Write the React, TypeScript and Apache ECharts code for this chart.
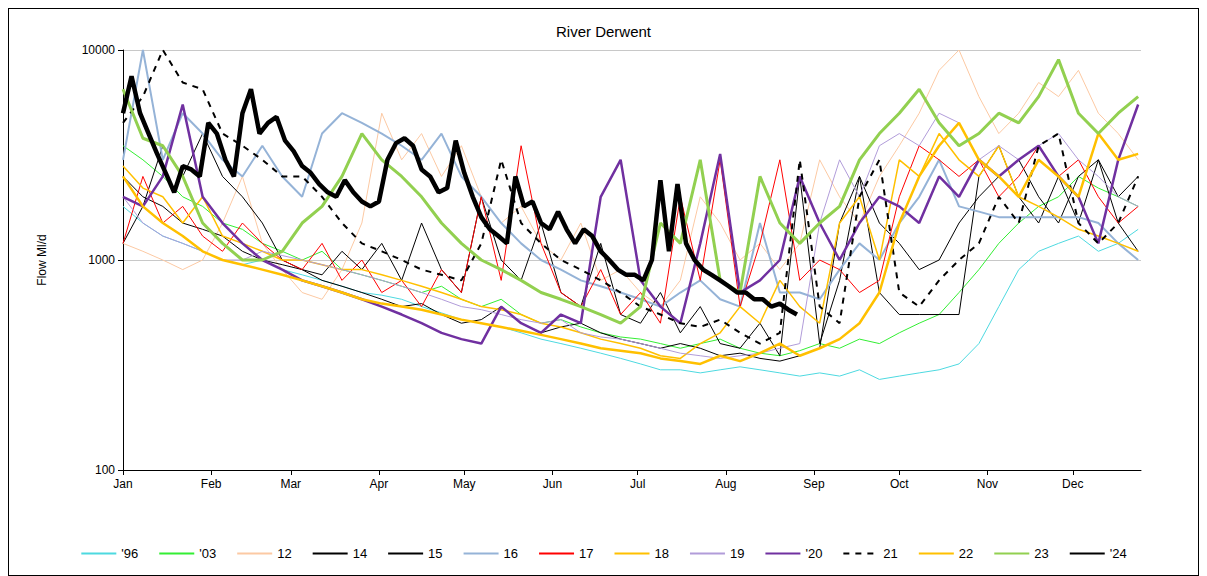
import React, { useEffect, useRef } from "react";
import * as echarts from "echarts";

const monthLabels = ["Jan","Feb","Mar","Apr","May","Jun","Jul","Aug","Sep","Oct","Nov","Dec"];
const monthStarts = [0,31,59,90,120,151,181,212,243,273,304,334];
const yTicks = [100, 1000, 10000];

const s96 = [1800,1500,1300,1200,1100,1000,950,1000,900,850,800,750,700,680,650,600,560,520,500,480,450,420,400,380,360,340,320,300,300,290,300,310,300,290,280,290,280,300,270,280,290,300,320,400,600,900,1100,1200,1300,1100,1200,1400];
const s03 = [3500,3000,2500,2000,1800,1500,1400,1200,1100,1000,1100,900,850,800,750,700,750,650,600,650,550,500,520,480,450,430,420,400,380,400,420,380,360,350,370,400,380,420,400,450,500,550,700,900,1200,1500,1800,2000,2500,2200,2000,1800];
const s12 = [1200,1100,1000,900,1000,1500,2500,1200,900,700,650,900,1500,5000,3000,4000,2500,3500,2000,1500,1800,1200,1000,1500,800,900,700,600,800,2000,1500,1000,1200,900,1200,3000,2000,1500,2500,3500,5000,8000,10000,6000,4000,5000,7000,6000,8000,5000,4000,3000];
const s14 = [1200,1800,3500,2500,4000,2500,2000,1500,1000,900,800,750,700,650,600,620,550,500,520,600,500,450,480,500,450,420,400,380,400,380,350,360,340,330,350,380,1500,2500,1500,1200,900,1000,1500,2000,2500,3000,2000,1500,2500,3000,1500,1100];
const s15 = [2500,2000,1800,1500,1400,1300,1100,1000,950,900,850,1100,900,1200,800,1500,900,700,2000,1000,800,1500,700,600,1200,550,500,700,450,600,400,380,500,350,2500,400,800,2500,700,550,550,550,550,2500,3500,2000,1500,2500,1500,3000,2000,2500];
const s16 = [3000,10000,3000,5000,4000,3000,2500,3500,2500,2000,4000,5000,4500,4000,3500,3000,4000,2500,2000,1500,1200,1000,900,800,750,700,650,600,700,800,650,600,1500,700,700,650,900,1200,1000,1500,2000,3000,1800,1700,1600,1600,1600,1600,1600,1500,1200,1000];
const s17 = [1200,2500,1500,1800,1300,1100,1500,1200,1000,900,1200,800,1000,700,800,600,900,700,2000,800,3500,1200,700,600,900,550,700,500,2000,800,3000,600,1200,3000,800,1000,900,700,800,2000,3500,3000,2500,3000,2000,2500,3500,2500,3000,2000,1500,1800];
const s18 = [2800,2200,2000,1500,2000,1300,1200,1100,1000,1000,950,900,900,850,800,750,700,650,600,580,550,500,480,450,420,400,380,350,340,400,450,600,500,800,600,500,1500,2000,1000,3000,2500,4000,3000,2500,3500,2000,1800,1600,1400,1300,1200,1100];
const s19 = [2000,1500,1300,1200,1100,1000,1000,1100,1050,1000,950,900,850,800,750,700,650,600,580,550,520,500,520,450,430,420,400,380,360,350,340,350,360,380,400,1500,3000,2000,3500,4000,3500,5000,4500,3000,3500,3000,3500,4000,3000,2500,2000,1800];
const s20 = [2000,1800,2500,5500,2000,1500,1200,1000,900,800,750,700,650,600,550,500,450,420,400,600,500,450,550,500,2000,3000,800,600,500,1200,3200,700,800,1000,2500,1500,1000,1500,2000,1800,1500,2500,2000,3000,2500,3000,3500,2500,2000,1200,3000,5500];
const s21 = [4500,6000,10000,7000,6500,4000,3500,3000,2500,2500,2000,1500,1200,1100,1000,900,850,800,1200,3000,1500,1200,1000,900,800,700,600,550,500,480,520,450,400,450,3000,600,500,2000,3000,700,600,800,1000,1200,2000,1500,3500,4000,1500,1200,1500,2500];
const s22 = [2500,1800,1500,1300,1100,1000,950,900,850,800,750,700,650,620,600,580,550,520,500,480,460,440,420,400,380,370,360,340,330,320,350,330,360,400,350,380,420,500,700,1500,2500,3500,4500,3000,2500,2000,3000,2500,2000,4000,3000,3200];
const s23 = [6500,3800,3500,2500,1500,1200,1000,1000,1100,1500,1800,2500,4000,3000,2500,2000,1500,1200,1000,900,800,700,650,600,550,500,600,1500,1200,3000,800,700,2500,1500,1200,1500,1800,3000,4000,5000,6500,4500,3500,4000,5000,4500,6000,9000,5000,4000,5000,6000];
const s24 = [5000,7500,5000,4000,3200,2600,2100,2800,2700,2500,4500,4000,3000,2500,5000,6500,4000,4500,4800,3700,3300,2800,2600,2300,2100,2000,2400,2100,1900,1800,1900,3000,3600,3800,3500,2700,2500,2100,2200,3700,2600,2000,1600,1400,1300,1200,2500,1800,1900,1500,1400,1700,1400,1200,1400,1300,1100,1000,900,850,850,800,1000,2400,1100,2300,1200,1000,900,850,800,750,700,700,650,650,600,620,580,550];

const seriesDefs: any[] = [
  { name: "'96", data: s96, step: 7, color: "#4dd9e0", width: 1 },
  { name: "'03", data: s03, step: 7, color: "#33ee33", width: 1 },
  { name: "12", data: s12, step: 7, color: "#fcc9a3", width: 1 },
  { name: "14", data: s14, step: 7, color: "#000000", width: 1 },
  { name: "15", data: s15, step: 7, color: "#000000", width: 1 },
  { name: "16", data: s16, step: 7, color: "#95b3d7", width: 2 },
  { name: "17", data: s17, step: 7, color: "#ff0000", width: 1 },
  { name: "18", data: s18, step: 7, color: "#ffc000", width: 1.5 },
  { name: "19", data: s19, step: 7, color: "#b19cd9", width: 1 },
  { name: "'20", data: s20, step: 7, color: "#7030a0", width: 2.5 },
  { name: "21", data: s21, step: 7, color: "#000000", width: 2, dash: [6, 6] },
  { name: "22", data: s22, step: 7, color: "#ffc000", width: 2.5 },
  { name: "23", data: s23, step: 7, color: "#92d050", width: 3 },
  { name: "'24", data: s24, step: 3, color: "#000000", width: 4.5 },
];

export default function App() {
  const ref = useRef<HTMLDivElement>(null);
  useEffect(() => {
    const chart = echarts.init(ref.current!, null, { renderer: "svg" });
    chart.setOption({
      animation: false,
      title: { text: "River Derwent", left: "center", top: 10, textStyle: { fontFamily: "Liberation Sans", fontSize: 15, fontWeight: "normal", color: "#000" } },
      grid: { left: 114, right: 57, top: 41, bottom: 105 },
      legend: {
        bottom: 10, left: "center", itemWidth: 35, itemHeight: 10, itemGap: 20,
        itemStyle: { opacity: 0 },
        textStyle: { fontFamily: "Liberation Sans", fontSize: 13, color: "#000" },
        data: seriesDefs.map((s) => s.name),
      },
      xAxis: {
        type: "value", min: 0, max: 358,
        axisLine: { lineStyle: { color: "#000" } },
        splitLine: { show: false },
        axisTick: { show: true, customValues: monthStarts, lineStyle: { color: "#000" } },
        axisLabel: {
          customValues: monthStarts, color: "#000", fontFamily: "Liberation Sans", fontSize: 12,
          formatter: (v: number) => monthLabels[monthStarts.indexOf(Math.round(v))] || "",
        },
      },
      yAxis: {
        type: "log", min: 100, max: 10000, logBase: 10,
        name: "Flow Ml/d", nameLocation: "middle", nameGap: 75, nameRotate: 90,
        nameTextStyle: { fontFamily: "Liberation Sans", fontSize: 12, color: "#000" },
        axisLine: { show: true, lineStyle: { color: "#000" } },
        axisTick: { show: true, lineStyle: { color: "#000" } },
        splitLine: { show: true, lineStyle: { color: "#c8c8c8" } },
        axisLabel: { color: "#000", fontFamily: "Liberation Sans", fontSize: 12, customValues: yTicks, formatter: (v: number) => String(Math.round(v)) },
      },
      series: seriesDefs.map((s) => ({
        name: s.name, type: "line", symbol: "none",
        data: s.data.map((v: number, i: number) => [Math.min(i * s.step, 358), v]),
        lineStyle: { color: s.color, width: s.width, type: s.dash || "solid" },
        itemStyle: { color: s.color },
      })),
    });
    return () => chart.dispose();
  }, []);
  return (
    <div style={{ width: 1191, height: 568, border: "1px solid #000", boxSizing: "border-box" }}>
      <div ref={ref} style={{ width: 1189, height: 566 }} />
    </div>
  );
}
